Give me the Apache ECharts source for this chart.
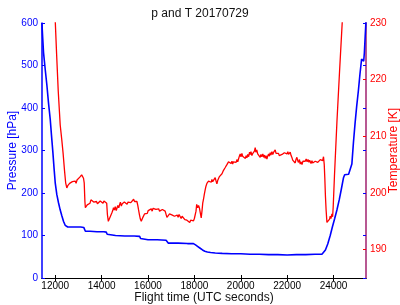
<!DOCTYPE html>
<html>
<head>
<meta charset="utf-8">
<script src="https://cdn.jsdelivr.net/npm/echarts@6/dist/echarts.min.js"></script>
<style>
  html, body { margin: 0; padding: 0; background: #fff; }
  #chart { width: 400px; height: 305px; }
</style>
</head>
<body>
<div id="chart"></div>
<script>
// flight time ticks (UTC seconds)
const xTicks = [12000, 14000, 16000, 18000, 20000, 22000, 24000];
const tempTicks = [190, 200, 210, 220, 230];

// pressure [hPa] : [time, value]
const pressure = [
  [11426, 600], [11460, 565], [11495, 531], [11570, 490], [11642, 453], [11710, 412],
  [11784, 374], [11840, 335], [11900, 295], [11950, 258], [12000, 224], [12070, 196],
  [12142, 177], [12210, 161], [12288, 146], [12360, 133], [12430, 124], [12480, 121],
  [12540, 120], [12700, 120], [12900, 120], [13100, 120], [13230, 119], [13260, 116],
  [13300, 110], [13500, 110], [13800, 109], [14100, 109], [14200, 108], [14240, 103],
  [14280, 100], [14600, 100], [15000, 99], [15400, 99], [15640, 98], [15680, 93],
  [15720, 91], [16000, 90], [16400, 90], [16780, 89], [16830, 85], [16880, 82],
  [17300, 82], [17700, 81], [17960, 81], [18050, 78], [18150, 74], [18250, 70],
  [18350, 66], [18450, 63], [18560, 61], [18700, 60], [18900, 59], [19200, 58],
  [19600, 57], [20000, 57], [20400, 56], [20800, 56], [21200, 55], [21600, 55],
  [22000, 54], [22400, 55], [22800, 55], [23200, 56], [23500, 56], [23560, 58],
  [23650, 66], [23750, 80], [23857, 100], [23950, 120], [24050, 140], [24146, 160],
  [24250, 185], [24340, 210], [24430, 236], [24480, 243], [24550, 243], [24650, 244],
  [24720, 246], [24790, 268], [24860, 320], [24930, 365], [25000, 405], [25070, 440],
  [25140, 480], [25210, 515], [25260, 518], [25300, 510], [25330, 530], [25366, 570],
  [25400, 605]
];

// temperature [K] : [time, value]
const temperature = [
  [11995, 231], [12060, 224.5], [12130, 218], [12215, 212], [12280, 209.5], [12340, 207],
  [12400, 204], [12450, 201.8], [12500, 200.9],
  [12540, 201.3], [12580, 201.1], [12620, 201.7], [12660, 201.9], [12700, 201.5], [12740, 202.0],
  [12780, 202.2], [12820, 201.8], [12860, 202.1], [12900, 201.7], [12940, 202.3], [12980, 202.0],
  [13020, 202.5], [13060, 202.8], [13100, 202.6], [13140, 203.2], [13180, 203.0], [13220, 202.6],
  [13250, 201.8], [13280, 198.5], [13300, 197.4],
  [13340, 197.6], [13380, 197.9], [13420, 197.7], [13460, 198.1], [13500, 198.2], [13540, 198.8],
  [13580, 199.1], [13620, 198.7], [13660, 198.4], [13700, 198.6], [13740, 198.2], [13780, 198.5],
  [13820, 198.1], [13860, 198.4], [13900, 198.2], [13940, 198.6], [13980, 198.3], [14020, 198.5],
  [14060, 198.2], [14100, 198.6], [14140, 198.4], [14180, 198.7], [14220, 198.2], [14250, 196.2],
  [14290, 195.0],
  [14330, 195.3], [14372, 195.8], [14410, 195.5], [14444, 196.5], [14480, 196.9], [14513, 197.4],
  [14550, 197.0], [14590, 197.6], [14630, 196.9], [14660, 197.2], [14700, 197.8], [14740, 197.4],
  [14780, 198.0], [14810, 198.4], [14850, 197.7], [14890, 198.1], [14940, 197.8], [14980, 198.4],
  [15020, 198.1], [15060, 198.6], [15100, 198.0], [15140, 198.4], [15180, 198.2], [15220, 198.7],
  [15260, 198.3], [15300, 198.6], [15340, 198.4], [15380, 198.9], [15420, 198.5], [15450, 198.8],
  [15490, 198.2], [15522, 198.5], [15560, 197.8], [15590, 197.1], [15630, 196.2], [15670, 195.4],
  [15710, 195.0], [15740, 195.2], [15780, 195.7], [15810, 195.9], [15850, 196.3], [15890, 196.1],
  [15930, 196.6], [15970, 196.4], [16010, 196.9], [16050, 196.6], [16095, 196.9], [16140, 197.2],
  [16180, 196.8], [16220, 197.3], [16260, 197.0], [16300, 197.4], [16340, 197.1], [16385, 197.4],
  [16420, 196.9], [16460, 197.2], [16500, 196.8], [16540, 197.0], [16580, 196.7], [16620, 197.1],
  [16660, 196.9], [16700, 197.2], [16740, 196.8], [16785, 197.0], [16816, 195.7], [16850, 196.0],
  [16890, 195.8], [16930, 196.3], [16970, 196.0], [17010, 196.4], [17050, 196.1], [17100, 196.3],
  [17140, 195.9], [17180, 196.2], [17220, 195.8], [17260, 196.1], [17300, 195.7], [17340, 196.2],
  [17389, 196.0], [17430, 195.5], [17470, 195.9], [17510, 195.6], [17550, 195.8], [17590, 195.3],
  [17630, 195.6], [17678, 195.2], [17720, 195.5], [17760, 195.1], [17800, 194.8], [17840, 195.2],
  [17880, 195.0], [17920, 195.4], [17963, 195.1], [18000, 195.5], [18036, 195.3], [18070, 196.8],
  [18100, 198.0], [18140, 197.4], [18180, 197.8], [18221, 197.3], [18260, 196.4], [18295, 195.6],
  [18330, 196.9], [18360, 198.2], [18394, 198.9], [18430, 199.8], [18467, 200.6], [18500, 201.2],
  [18540, 201.7], [18575, 201.4], [18609, 202.1], [18650, 201.8], [18690, 202.3], [18730, 201.9],
  [18756, 202.4], [18790, 202.0], [18825, 201.8], [18860, 202.3], [18898, 202.7], [18935, 202.1],
  [18971, 201.6], [19005, 202.2], [19040, 202.4],
  [19080, 202.9], [19114, 202.6], [19150, 203.1], [19190, 203.4], [19220, 203.2], [19256, 204.0],
  [19290, 203.7], [19330, 204.5], [19370, 204.2], [19403, 205.0], [19440, 204.7], [19472, 205.5],
  [19510, 205.2], [19545, 205.7], [19580, 205.2], [19620, 205.6], [19650, 205.1], [19687, 205.5],
  [19720, 205.2], [19760, 205.8], [19800, 205.4], [19840, 205.9], [19870, 205.5], [19903, 206.0],
  [19940, 206.5], [19976, 206.9], [20010, 206.4], [20049, 207.0], [20080, 206.5], [20120, 206.2],
  [20160, 206.7], [20200, 206.1], [20230, 206.6], [20265, 206.2], [20300, 206.8], [20340, 206.4],
  [20380, 207.2], [20407, 206.8], [20440, 207.3], [20480, 206.6], [20520, 207.0], [20560, 206.7],
  [20590, 207.4], [20623, 208.0], [20650, 207.2], [20690, 207.6], [20730, 206.9], [20770, 207.2],
  [20800, 206.6], [20838, 206.3], [20870, 206.8], [20910, 206.4], [20950, 206.9], [20990, 206.3],
  [21020, 206.7], [21054, 206.1], [21090, 206.6], [21127, 206.0], [21160, 206.5], [21200, 206.9],
  [21235, 206.5], [21270, 207.1], [21300, 206.7], [21343, 207.3], [21380, 206.8], [21420, 207.2],
  [21450, 206.9], [21485, 207.6], [21520, 207.0], [21560, 207.3], [21590, 206.8], [21627, 207.0],
  [21660, 206.6], [21701, 206.9], [21740, 206.4], [21780, 206.8], [21810, 206.5], [21843, 206.7],
  [21880, 207.1], [21916, 206.8], [21950, 207.2], [21990, 206.9], [22030, 207.3], [22060, 206.8],
  [22100, 207.0], [22132, 207.2], [22170, 206.6], [22210, 206.2], [22240, 205.8], [22275, 205.5],
  [22310, 206.0], [22347, 205.3], [22380, 205.9], [22421, 206.3], [22450, 205.8], [22490, 205.4],
  [22530, 205.9], [22563, 205.1], [22600, 205.5], [22640, 205.0], [22680, 205.6], [22710, 205.3],
  [22750, 205.9], [22779, 205.6], [22820, 206.0], [22860, 205.5], [22900, 205.9], [22940, 205.4],
  [22970, 205.8], [22994, 205.6], [23030, 205.2], [23070, 205.7], [23100, 205.3], [23137, 205.5],
  [23170, 205.1], [23210, 205.6], [23250, 205.3], [23290, 205.8], [23320, 205.4], [23353, 205.7],
  [23390, 205.5], [23430, 205.9], [23460, 205.6], [23500, 206.0], [23530, 205.7], [23568, 206.4],
  [23600, 205.0], [23625, 202.5], [23650, 199.5], [23680, 197.0], [23715, 194.8], [23740, 194.5],
  [23770, 194.6], [23800, 194.9], [23830, 195.4], [23857, 195.9], [23890, 195.5], [23930, 196.3],
  [23960, 195.8], [23985, 197.5], [24040, 203.0], [24146, 212.5], [24260, 221.5], [24380, 230.5],
  [24420, 233.5]
];

const font = 'Liberation Sans, Arial, sans-serif';

function renderChart() {
  const dom = document.getElementById('chart');
  const chart = echarts.init(dom, null, { renderer: 'canvas' });
  const option = {
    animation: false,
    backgroundColor: '#fff',
    title: {
      text: 'p and T 20170729',
      left: 'center',
      top: 3,
      textStyle: { fontSize: 12, fontWeight: 'normal', color: '#111', fontFamily: font }
    },
    grid: { left: 42, right: 34, top: 23, bottom: 27, outerBoundsMode: 'none', containLabel: false },
    xAxis: [{
      type: 'value',
      min: 11430,
      max: 25400,
      name: 'Flight time (UTC seconds)',
      nameLocation: 'middle',
      nameGap: 14,
      nameMoveOverlap: false,
      nameTextStyle: { fontSize: 12, color: '#111', fontFamily: font },
      axisLine: { lineStyle: { color: '#000', width: 1 } },
      axisTick: { inside: true, length: 3, customValues: xTicks, lineStyle: { color: '#000' } },
      axisLabel: {
        customValues: xTicks, margin: 3, fontSize: 10, color: '#000', fontFamily: font,
        formatter: function(v) { return String(v); }
      },
      splitLine: { show: false }
    }, {
      type: 'value',
      position: 'top',
      min: 11430,
      max: 25400,
      axisLine: { lineStyle: { color: '#000', width: 1 } },
      axisTick: { inside: true, length: 3, customValues: xTicks, lineStyle: { color: '#000' } },
      axisLabel: { show: false },
      splitLine: { show: false }
    }],
    yAxis: [{
      type: 'value',
      position: 'left',
      min: 0,
      max: 600,
      interval: 100,
      name: 'Pressure [hPa]',
      nameLocation: 'middle',
      nameGap: 23,
      nameMoveOverlap: false,
      nameTextStyle: { fontSize: 12, color: '#0000ff', fontFamily: font },
      axisLine: { show: true, lineStyle: { color: '#0000ff', width: 1.5 } },
      axisTick: { inside: true, length: 3, lineStyle: { color: '#0000ff' } },
      axisLabel: { margin: 4, fontSize: 10, color: '#0000ff', fontFamily: font },
      splitLine: { show: false }
    }, {
      type: 'value',
      position: 'right',
      min: 185,
      max: 230,
      name: 'Temperature [K]',
      nameLocation: 'middle',
      nameGap: 22,
      nameMoveOverlap: false,
      nameTextStyle: { fontSize: 12, color: '#ff0000', fontFamily: font },
      axisLine: { show: true, lineStyle: { color: '#a0206e', width: 1.5 } },
      axisTick: { inside: true, length: 3, customValues: tempTicks, lineStyle: { color: '#ff0000' } },
      axisLabel: { customValues: tempTicks, margin: 4, fontSize: 10, color: '#ff0000', fontFamily: font },
      splitLine: { show: false }
    }, {
      // pressure ticks mirrored on the right side
      type: 'value',
      position: 'right',
      min: 0,
      max: 600,
      interval: 100,
      axisLine: { show: false },
      axisTick: { inside: true, length: 3, lineStyle: { color: '#0000ff' } },
      axisLabel: { show: false },
      splitLine: { show: false }
    }],
    series: [{
      name: 'pressure',
      type: 'line',
      xAxisIndex: 0,
      yAxisIndex: 0,
      data: pressure,
      symbol: 'none',
      lineStyle: { color: '#0000ff', width: 1.6 },
      clip: true
    }, {
      name: 'temperature',
      type: 'line',
      xAxisIndex: 0,
      yAxisIndex: 1,
      data: temperature,
      symbol: 'none',
      lineStyle: { color: '#ff0000', width: 1.3 },
      clip: true
    }]
  };
  chart.setOption(option, true);
}

renderChart();
</script>
</body>
</html>
